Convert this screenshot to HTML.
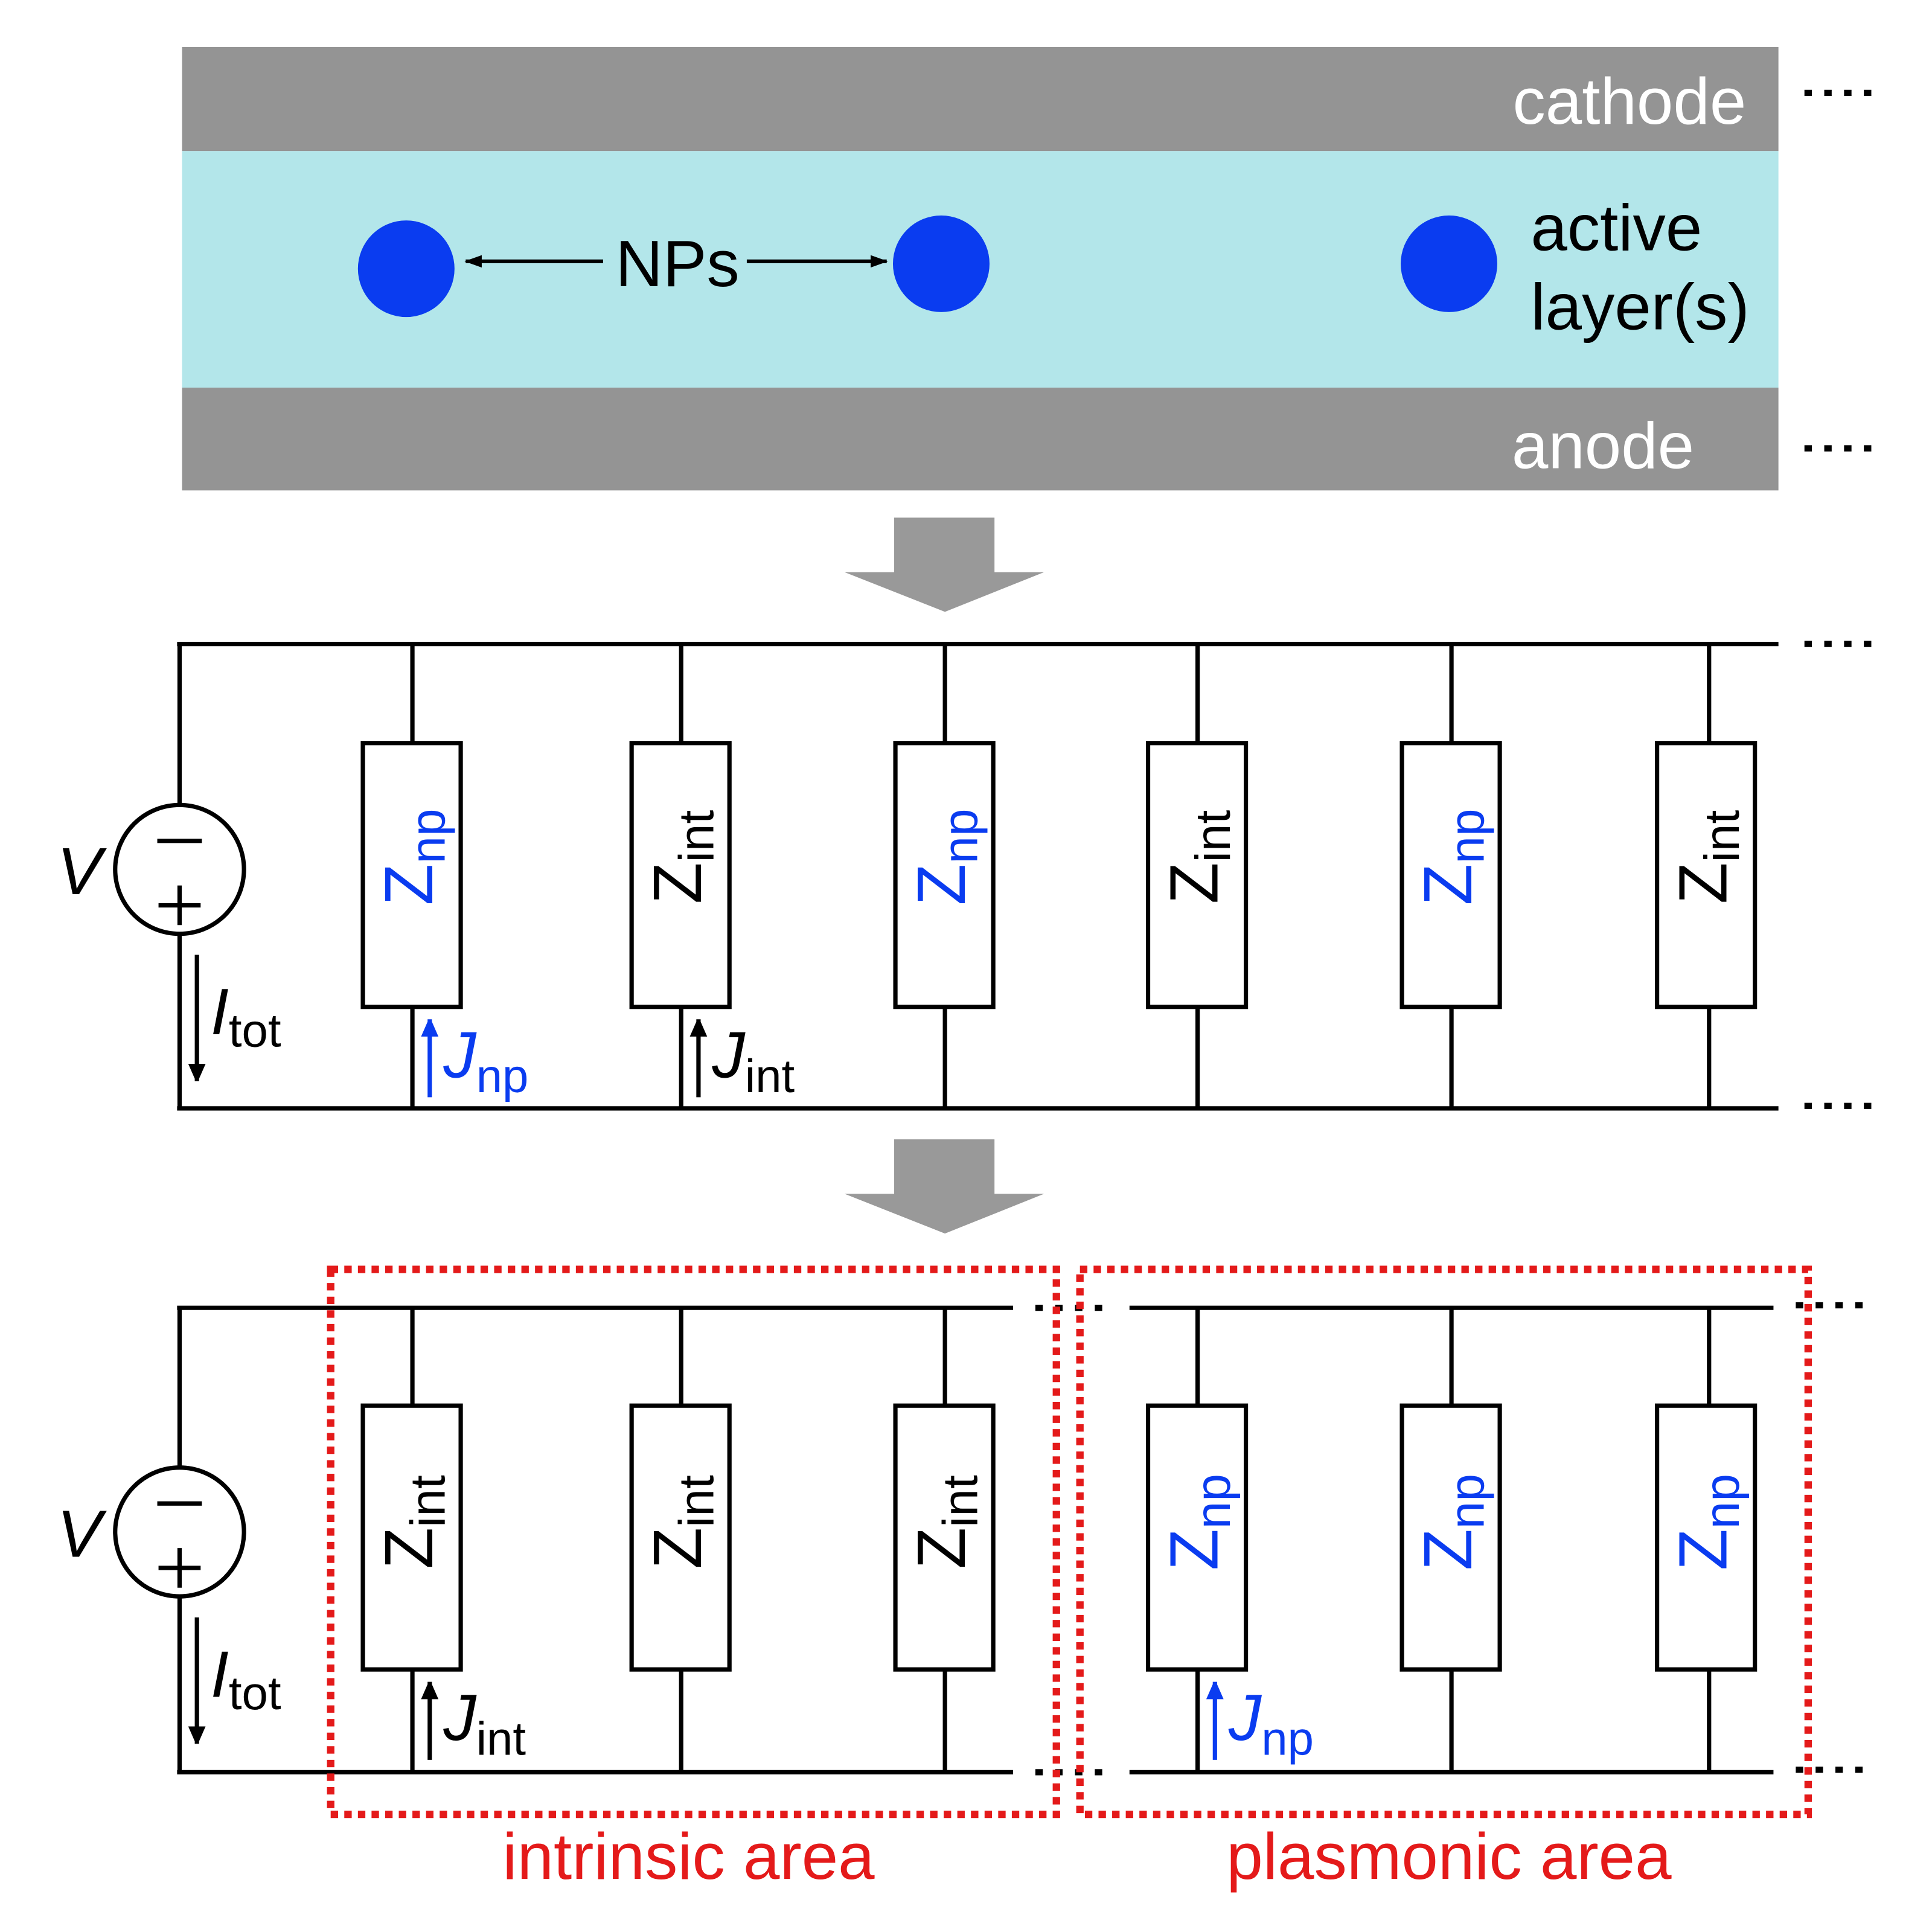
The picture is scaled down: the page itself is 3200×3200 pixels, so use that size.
<!DOCTYPE html>
<html><head><meta charset="utf-8"><style>
html,body{margin:0;padding:0;background:#fff}
svg{display:block}
text{font-family:"Liberation Sans",sans-serif}
</style></head><body>
<svg width="3200" height="3200" viewBox="0 0 1560 1560" xmlns="http://www.w3.org/2000/svg">
<defs>
<marker id="ak" markerWidth="14" markerHeight="12" refX="13" refY="6" orient="auto" markerUnits="userSpaceOnUse"><path d="M0,1 L14,6 L0,11z" fill="#000"/></marker>
<marker id="ab" markerWidth="12" markerHeight="16" refX="14" refY="7" orient="auto" markerUnits="userSpaceOnUse"><path d="M0,0 L16,7 L0,14z" fill="#0a3cf0"/></marker>
<marker id="ab2" markerWidth="12" markerHeight="16" refX="14" refY="7" orient="auto" markerUnits="userSpaceOnUse"><path d="M0,0 L16,7 L0,14z" fill="#000"/></marker>
</defs>
<rect width="1560" height="1560" fill="#fff"/>
<rect x="147" y="38" width="1289" height="84" fill="#949494"/>
<rect x="147" y="122" width="1289" height="191" fill="#b3e6ea"/>
<rect x="147" y="313" width="1289" height="83" fill="#949494"/>
<text x="1410" y="100" font-size="53" fill="#fff" text-anchor="end">cathode</text>
<text x="1368" y="378" font-size="53" fill="#fff" text-anchor="end">anode</text>
<g stroke="#000" stroke-width="5" stroke-dasharray="6 10">
<line x1="1457" y1="75" x2="1512" y2="75"/><line x1="1457" y1="362" x2="1512" y2="362"/>
<line x1="1457" y1="520" x2="1512" y2="520"/><line x1="1457" y1="893" x2="1512" y2="893"/>
<line x1="1450" y1="1054" x2="1505" y2="1054"/><line x1="1450" y1="1429" x2="1505" y2="1429"/>
<line x1="836" y1="1056" x2="891" y2="1056"/><line x1="836" y1="1431" x2="891" y2="1431"/>
</g>
<circle cx="328" cy="217" r="39" fill="#0a3cf0"/>
<circle cx="760" cy="213" r="39" fill="#0a3cf0"/>
<circle cx="1170" cy="213" r="39" fill="#0a3cf0"/>
<text x="547" y="231" font-size="53" text-anchor="middle">NPs</text>
<line x1="487" y1="211" x2="376" y2="211" stroke="#000" stroke-width="3" marker-end="url(#ak)"/>
<line x1="603" y1="211" x2="716" y2="211" stroke="#000" stroke-width="3" marker-end="url(#ak)"/>
<text x="1236" y="202" font-size="53">active</text>
<text x="1236" y="266" font-size="53">layer(s)</text>
<path d="M722,418 H803 V462 H843 L763,494 L682,462 H722Z" fill="#999"/>
<path d="M722,920 H803 V964 H843 L763,996 L682,964 H722Z" fill="#999"/>
<g stroke="#000" stroke-width="3.5" fill="none">
<line x1="143" y1="520" x2="1436" y2="520"/>
<line x1="143" y1="895" x2="1436" y2="895"/>
<line x1="145" y1="520" x2="145" y2="651"/>
<line x1="145" y1="753" x2="145" y2="895"/>
<circle cx="145" cy="702" r="52"/>
<line x1="127" y1="679" x2="163" y2="679"/>
<line x1="128" y1="731" x2="162" y2="731"/><line x1="145" y1="715" x2="145" y2="747"/>
<line x1="143" y1="1056" x2="818" y2="1056"/>
<line x1="143" y1="1431" x2="818" y2="1431"/>
<line x1="912" y1="1056" x2="1432" y2="1056"/>
<line x1="912" y1="1431" x2="1432" y2="1431"/>
<line x1="145" y1="1056" x2="145" y2="1186"/>
<line x1="145" y1="1288" x2="145" y2="1431"/>
<circle cx="145" cy="1237" r="52"/>
<line x1="127" y1="1214" x2="163" y2="1214"/>
<line x1="128" y1="1266" x2="162" y2="1266"/><line x1="145" y1="1250" x2="145" y2="1282"/>
</g>
<text x="46" y="722" font-size="54" font-style="italic">V</text>
<text x="46" y="1257" font-size="54" font-style="italic">V</text>
<g stroke="#000" stroke-width="3.5" fill="#fff">
<g>
<line x1="333" y1="520" x2="333" y2="600"/><line x1="333" y1="813" x2="333" y2="895"/><rect x="293" y="600" width="79" height="213"/>
<line x1="550" y1="520" x2="550" y2="600"/><line x1="550" y1="813" x2="550" y2="895"/><rect x="510" y="600" width="79" height="213"/>
<line x1="763" y1="520" x2="763" y2="600"/><line x1="763" y1="813" x2="763" y2="895"/><rect x="723" y="600" width="79" height="213"/>
<line x1="967" y1="520" x2="967" y2="600"/><line x1="967" y1="813" x2="967" y2="895"/><rect x="927" y="600" width="79" height="213"/>
<line x1="1172" y1="520" x2="1172" y2="600"/><line x1="1172" y1="813" x2="1172" y2="895"/><rect x="1132" y="600" width="79" height="213"/>
<line x1="1380" y1="520" x2="1380" y2="600"/><line x1="1380" y1="813" x2="1380" y2="895"/><rect x="1338" y="600" width="79" height="213"/>
</g>
<g transform="translate(0,535)">
<line x1="333" y1="520" x2="333" y2="600"/><line x1="333" y1="813" x2="333" y2="895"/><rect x="293" y="600" width="79" height="213"/>
<line x1="550" y1="520" x2="550" y2="600"/><line x1="550" y1="813" x2="550" y2="895"/><rect x="510" y="600" width="79" height="213"/>
<line x1="763" y1="520" x2="763" y2="600"/><line x1="763" y1="813" x2="763" y2="895"/><rect x="723" y="600" width="79" height="213"/>
<line x1="967" y1="520" x2="967" y2="600"/><line x1="967" y1="813" x2="967" y2="895"/><rect x="927" y="600" width="79" height="213"/>
<line x1="1172" y1="520" x2="1172" y2="600"/><line x1="1172" y1="813" x2="1172" y2="895"/><rect x="1132" y="600" width="79" height="213"/>
<line x1="1380" y1="520" x2="1380" y2="600"/><line x1="1380" y1="813" x2="1380" y2="895"/><rect x="1338" y="600" width="79" height="213"/>
</g>
</g>
<g font-size="55" text-anchor="middle">
<text transform="translate(349,692) rotate(-90)" fill="#0a3cf0">Z<tspan font-size="40" dy="10">np</tspan></text>
<text transform="translate(566,692) rotate(-90)">Z<tspan font-size="40" dy="10">int</tspan></text>
<text transform="translate(779,692) rotate(-90)" fill="#0a3cf0">Z<tspan font-size="40" dy="10">np</tspan></text>
<text transform="translate(983,692) rotate(-90)">Z<tspan font-size="40" dy="10">int</tspan></text>
<text transform="translate(1188,692) rotate(-90)" fill="#0a3cf0">Z<tspan font-size="40" dy="10">np</tspan></text>
<text transform="translate(1394,692) rotate(-90)">Z<tspan font-size="40" dy="10">int</tspan></text>
<text transform="translate(349,1229) rotate(-90)">Z<tspan font-size="40" dy="10">int</tspan></text>
<text transform="translate(566,1229) rotate(-90)">Z<tspan font-size="40" dy="10">int</tspan></text>
<text transform="translate(779,1229) rotate(-90)">Z<tspan font-size="40" dy="10">int</tspan></text>
<text transform="translate(983,1229) rotate(-90)" fill="#0a3cf0">Z<tspan font-size="40" dy="10">np</tspan></text>
<text transform="translate(1188,1229) rotate(-90)" fill="#0a3cf0">Z<tspan font-size="40" dy="10">np</tspan></text>
<text transform="translate(1394,1229) rotate(-90)" fill="#0a3cf0">Z<tspan font-size="40" dy="10">np</tspan></text>
</g>
<line x1="159" y1="771" x2="159" y2="873" stroke="#000" stroke-width="3.5" marker-end="url(#ab2)"/>
<line x1="159" y1="1306" x2="159" y2="1408" stroke="#000" stroke-width="3.5" marker-end="url(#ab2)"/>
<text x="170" y="835" font-size="53" font-style="italic">I<tspan font-style="normal" font-size="38" dy="10">tot</tspan></text>
<text x="170" y="1370" font-size="53" font-style="italic">I<tspan font-style="normal" font-size="38" dy="10">tot</tspan></text>
<line x1="347" y1="886" x2="347" y2="823" stroke="#0a3cf0" stroke-width="3.5" marker-end="url(#ab)"/>
<text x="358" y="870" font-size="53" font-style="italic" fill="#0a3cf0">J<tspan font-style="normal" font-size="38" dy="12">np</tspan></text>
<line x1="564" y1="886" x2="564" y2="823" stroke="#000" stroke-width="3.5" marker-end="url(#ab2)"/>
<text x="575" y="870" font-size="53" font-style="italic">J<tspan font-style="normal" font-size="38" dy="12">int</tspan></text>
<line x1="347" y1="1421" x2="347" y2="1358" stroke="#000" stroke-width="3.5" marker-end="url(#ab2)"/>
<text x="358" y="1405" font-size="53" font-style="italic">J<tspan font-style="normal" font-size="38" dy="12">int</tspan></text>
<line x1="981" y1="1421" x2="981" y2="1358" stroke="#0a3cf0" stroke-width="3.5" marker-end="url(#ab)"/>
<text x="992" y="1405" font-size="53" font-style="italic" fill="#0a3cf0">J<tspan font-style="normal" font-size="38" dy="12">np</tspan></text>
<rect x="267" y="1025" width="586" height="440" fill="none" stroke="#e41a1a" stroke-width="6" stroke-dasharray="6 5"/>
<rect x="872" y="1025" width="588" height="440" fill="none" stroke="#e41a1a" stroke-width="6" stroke-dasharray="6 5"/>
<text x="556" y="1517" font-size="53" fill="#e41a1a" text-anchor="middle">intrinsic area</text>
<text x="1170" y="1517" font-size="53" fill="#e41a1a" text-anchor="middle">plasmonic area</text>
</svg>
</body></html>
